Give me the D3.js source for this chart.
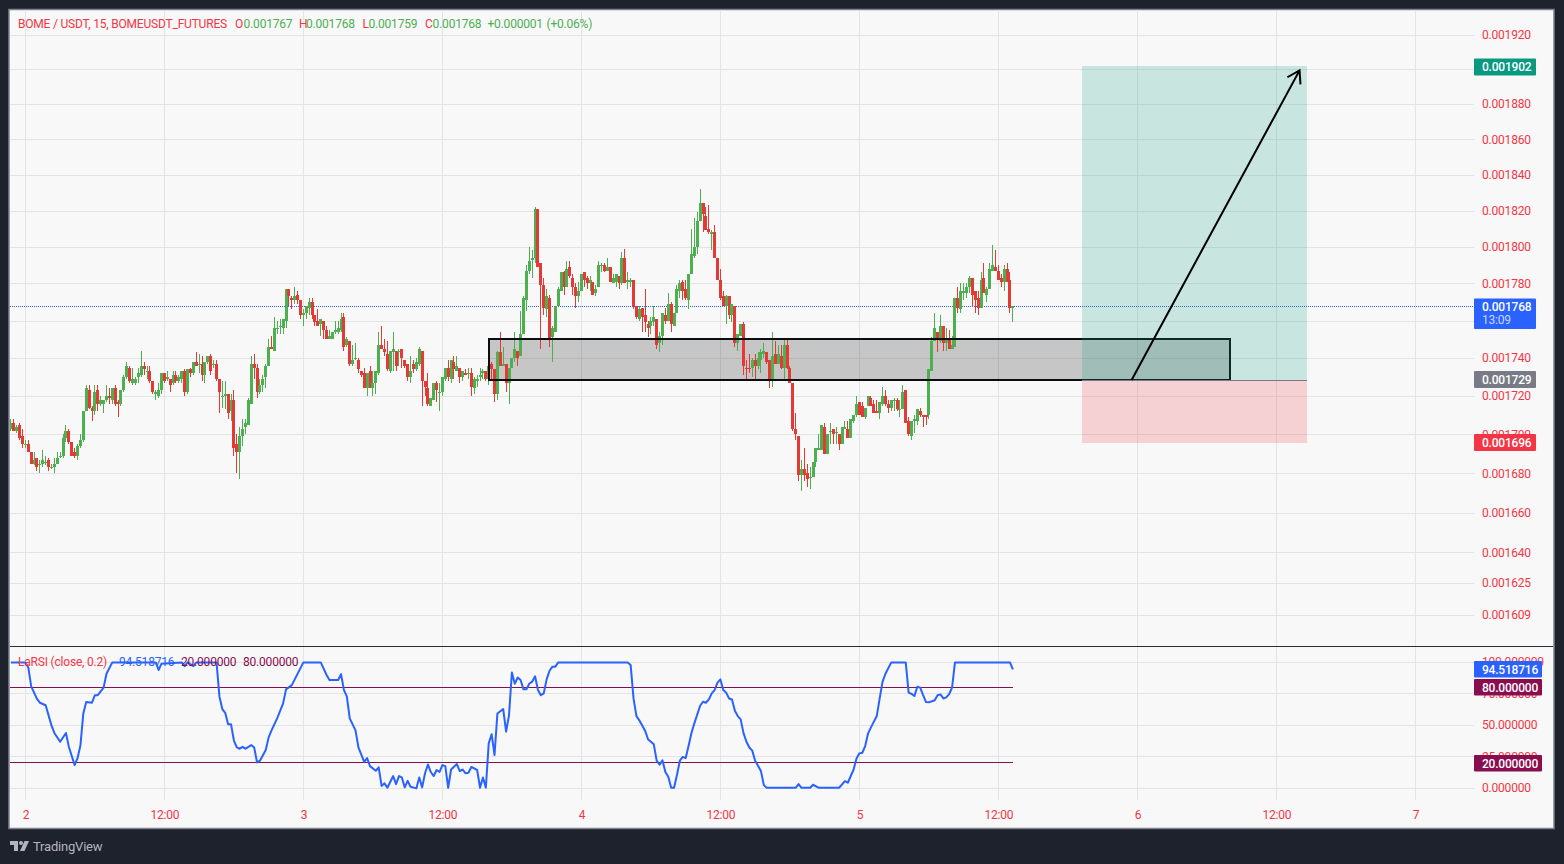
<!DOCTYPE html>
<html><head><meta charset="utf-8">
<script src="https://cdn.jsdelivr.net/npm/d3@7"></script>
<style>
html,body{margin:0;padding:0;background:#1e222d;overflow:hidden}
svg{display:block}
text{font-family:Roboto,sans-serif;letter-spacing:-0.2px}
</style></head><body>
<svg id="c" width="1564" height="864"></svg>
<script>
// OHLC, in millionths of USDT per BOME, one value per 15 minute bar
const firstBar = -5; // bars counted from day 2, 00:00
const opens = [
1703,1706,1702,1705,1699,1695,1695,1691,1685,1688,
1685,1685,1686,1687,1683,1683,1685,1689,1689,1698,
1702,1696,1691,1689,1694,1697,1712,1723,1714,1712,
1723,1716,1716,1718,1720,1718,1724,1717,1716,1723,
1730,1735,1727,1727,1730,1731,1736,1733,1733,1728,
1721,1720,1723,1732,1729,1729,1727,1731,1728,1729,
1733,1722,1734,1732,1738,1737,1737,1731,1738,1741,
1737,1737,1729,1720,1720,1721,1712,1718,1695,1691,
1699,1704,1705,1716,1737,1735,1722,1726,1730,1736,
1746,1744,1756,1757,1756,1760,1777,1772,1771,1774,
1771,1763,1764,1767,1770,1763,1760,1758,1760,1755,
1750,1750,1754,1754,1755,1762,1747,1749,1737,1740,
1739,1733,1732,1724,1733,1724,1727,1732,1747,1745,
1742,1733,1743,1744,1744,1745,1739,1737,1730,1737,
1734,1737,1744,1728,1724,1715,1718,1727,1722,1722,
1729,1735,1729,1738,1733,1735,1730,1732,1732,1732,
1724,1728,1730,1732,1733,1729,1737,1734,1721,1743,
1736,1737,1727,1735,1740,1744,1741,1753,1771,1787,
1793,1794,1821,1791,1779,1766,1772,1751,1754,1768,
1776,1786,1778,1789,1783,1778,1773,1776,1786,1783,
1780,1781,1775,1778,1790,1790,1787,1789,1780,1781,
1784,1780,1794,1781,1781,1782,1768,1761,1767,1763,
1758,1757,1759,1761,1748,1752,1763,1760,1769,1757,
1764,1776,1781,1777,1771,1785,1795,1800,1814,1824,
1817,1810,1807,1808,1794,1782,1773,1768,1773,1763,
1768,1748,1752,1758,1735,1735,1735,1739,1736,1739,
1742,1743,1739,1728,1742,1737,1741,1735,1747,1735,
1727,1703,1699,1679,1682,1680,1678,1678,1686,1692,
1692,1704,1690,1701,1703,1701,1700,1695,1703,1703,
1698,1707,1710,1717,1715,1709,1715,1719,1716,1712,
1711,1716,1720,1716,1714,1718,1718,1713,1713,1723,
1707,1699,1707,1707,1712,1710,1710,1710,1733,1749,
1754,1749,1757,1748,1750,1745,1746,1772,1766,1775,
1775,1778,1783,1776,1772,1767,1783,1774,1777,1787,
1789,1787,1783,1781,1788,1782,1767];
const highs = [
1708,1708,1705,1706,1703,1697,1697,1691,1691,1688,
1687,1692,1689,1688,1685,1688,1691,1691,1700,1705,
1703,1696,1693,1695,1700,1712,1726,1726,1715,1726,
1726,1720,1718,1726,1724,1724,1726,1718,1723,1731,
1738,1736,1735,1730,1735,1744,1738,1736,1736,1728,
1723,1727,1732,1732,1733,1729,1733,1733,1731,1733,
1734,1734,1735,1738,1743,1742,1741,1738,1741,1742,
1739,1739,1729,1728,1728,1721,1721,1723,1700,1704,
1708,1708,1719,1741,1742,1737,1729,1731,1737,1750,
1752,1762,1760,1761,1761,1777,1777,1773,1778,1776,
1771,1766,1768,1772,1772,1763,1766,1761,1760,1757,
1755,1754,1760,1760,1764,1764,1751,1749,1747,1748,
1740,1733,1735,1732,1736,1733,1733,1754,1757,1750,
1749,1744,1754,1744,1745,1745,1739,1737,1741,1739,
1740,1746,1744,1728,1732,1719,1727,1728,1727,1730,
1735,1739,1739,1741,1741,1735,1733,1734,1735,1735,
1730,1731,1735,1734,1733,1738,1738,1734,1744,1754,
1746,1737,1735,1740,1754,1744,1765,1773,1790,1800,
1798,1822,1821,1791,1783,1777,1774,1757,1768,1778,
1786,1787,1792,1792,1785,1780,1781,1785,1786,1784,
1784,1781,1779,1792,1791,1791,1794,1789,1785,1785,
1784,1797,1799,1786,1783,1782,1768,1768,1767,1777,
1760,1762,1768,1761,1754,1764,1767,1775,1770,1764,
1779,1782,1782,1782,1785,1810,1816,1819,1832,1824,
1822,1823,1809,1812,1794,1788,1776,1774,1773,1769,
1768,1753,1758,1759,1739,1742,1740,1742,1743,1745,
1748,1743,1739,1754,1749,1747,1747,1750,1750,1736,
1727,1711,1699,1687,1693,1685,1683,1686,1693,1700,
1705,1706,1700,1706,1703,1704,1700,1704,1707,1707,
1708,1710,1720,1717,1717,1714,1720,1720,1718,1718,
1717,1725,1723,1718,1718,1719,1719,1718,1726,1723,
1709,1707,1710,1713,1714,1710,1710,1734,1751,1764,
1754,1763,1757,1756,1755,1752,1772,1778,1780,1780,
1780,1784,1783,1776,1776,1786,1791,1778,1791,1801,
1798,1790,1785,1790,1791,1786,1768];
const lows = [
1702,1702,1701,1697,1693,1693,1691,1685,1684,1681,
1680,1683,1684,1681,1682,1680,1685,1688,1688,1696,
1695,1689,1688,1687,1693,1696,1712,1713,1707,1710,
1712,1715,1711,1717,1716,1716,1715,1709,1715,1722,
1729,1727,1726,1726,1727,1730,1731,1729,1727,1721,
1718,1719,1721,1727,1728,1722,1726,1727,1727,1727,
1720,1721,1730,1731,1736,1732,1728,1727,1737,1731,
1735,1728,1711,1714,1713,1708,1707,1689,1680,1677,
1694,1700,1705,1716,1729,1719,1721,1722,1724,1736,
1745,1744,1753,1753,1753,1756,1768,1766,1769,1769,
1761,1757,1761,1763,1761,1757,1757,1752,1750,1750,
1750,1750,1753,1753,1754,1744,1746,1736,1736,1739,
1732,1730,1724,1720,1724,1720,1721,1731,1745,1741,
1733,1732,1733,1733,1736,1735,1735,1728,1727,1732,
1733,1736,1715,1720,1715,1715,1718,1717,1712,1720,
1728,1728,1727,1729,1733,1727,1728,1731,1729,1720,
1721,1725,1728,1729,1728,1726,1728,1717,1718,1736,
1736,1722,1716,1735,1738,1736,1741,1753,1765,1785,
1783,1791,1789,1745,1763,1762,1746,1738,1754,1768,
1776,1774,1778,1783,1774,1767,1770,1776,1778,1777,
1776,1774,1773,1778,1786,1786,1787,1781,1780,1778,
1777,1779,1780,1777,1778,1766,1761,1760,1754,1754,
1751,1753,1757,1745,1743,1747,1758,1760,1754,1757,
1764,1772,1771,1771,1766,1785,1794,1796,1814,1808,
1809,1807,1798,1794,1782,1771,1768,1758,1761,1759,
1746,1744,1752,1731,1728,1732,1730,1728,1734,1732,
1740,1737,1724,1725,1737,1737,1734,1729,1734,1727,
1702,1697,1676,1671,1676,1673,1672,1678,1683,1692,
1692,1690,1690,1695,1695,1695,1692,1695,1703,1698,
1698,1706,1709,1710,1709,1708,1715,1715,1711,1711,
1708,1715,1715,1711,1712,1712,1712,1709,1713,1706,
1699,1697,1701,1705,1709,1704,1705,1708,1733,1749,
1743,1748,1744,1744,1745,1745,1746,1764,1764,1771,
1772,1775,1768,1764,1763,1767,1775,1770,1777,1787,
1787,1782,1778,1776,1781,1764,1759];
const closes = [
1706,1702,1704,1698,1695,1695,1691,1685,1687,1683,
1685,1687,1686,1683,1683,1685,1688,1689,1698,1702,
1696,1689,1689,1694,1697,1712,1724,1714,1712,1722,
1716,1718,1718,1720,1719,1724,1716,1716,1723,1730,
1736,1728,1729,1729,1732,1736,1734,1733,1728,1722,
1722,1723,1732,1728,1730,1726,1731,1728,1730,1733,
1722,1734,1732,1738,1736,1737,1731,1738,1741,1733,
1737,1729,1722,1720,1721,1711,1718,1693,1691,1699,
1703,1706,1718,1737,1735,1722,1726,1729,1736,1746,
1745,1756,1756,1757,1761,1777,1773,1771,1773,1771,
1763,1764,1768,1770,1763,1759,1757,1761,1755,1750,
1752,1754,1755,1756,1761,1746,1750,1737,1739,1740,
1734,1731,1724,1732,1724,1727,1733,1747,1745,1743,
1734,1744,1745,1736,1744,1740,1736,1730,1733,1734,
1738,1745,1728,1725,1716,1719,1727,1723,1722,1730,
1735,1730,1739,1734,1736,1730,1733,1731,1732,1725,
1729,1729,1731,1733,1729,1736,1734,1721,1743,1736,
1737,1727,1735,1740,1745,1740,1753,1772,1787,1792,
1794,1821,1789,1779,1767,1773,1750,1756,1768,1777,
1786,1778,1788,1784,1778,1773,1776,1785,1782,1780,
1782,1774,1777,1790,1790,1787,1789,1781,1783,1785,
1780,1794,1780,1782,1782,1768,1762,1766,1762,1759,
1756,1760,1762,1747,1752,1764,1760,1769,1758,1764,
1777,1780,1776,1772,1785,1796,1800,1814,1824,1818,
1809,1808,1808,1794,1782,1772,1768,1773,1763,1769,
1748,1753,1758,1736,1734,1734,1739,1736,1740,1743,
1744,1738,1729,1741,1737,1742,1735,1747,1735,1727,
1703,1700,1679,1682,1679,1677,1678,1686,1693,1693,
1705,1690,1700,1702,1700,1701,1695,1704,1704,1698,
1708,1710,1716,1710,1709,1714,1720,1715,1711,1711,
1717,1720,1716,1714,1718,1718,1713,1713,1722,1706,
1700,1707,1708,1713,1710,1709,1709,1734,1749,1756,
1750,1757,1748,1750,1745,1747,1772,1767,1776,1776,
1778,1783,1774,1771,1767,1782,1775,1777,1788,1790,
1787,1782,1781,1788,1781,1767,1768];

// LaRSI polyline vertices: bar number and value
const rsiBars = [-5,0,1,2,4,5,7,9,10,12,14,15,17,18,19,20,21,23,24,25,27,28,30,45,46,47,54,55,56,58,59,66,67,68,69,70,71,72,73,74,75,76,78,79,80,81,83,84,85,87,89,90,92,96,102,104,105,108,109,110,111,112,114,115,117,118,119,121,122,123,124,125,127,128,129,130,131,132,133,135,136,137,138,139,140,141,142,143,144,145,146,147,149,150,151,152,153,154,156,157,158,159,160,161,162,163,165,166,167,168,169,170,171,172,173,174,175,176,177,178,179,180,181,182,183,184,208,209,210,211,212,214,215,217,218,219,220,221,222,223,224,225,226,227,228,229,230,231,233,234,235,236,237,238,239,240,241,242,243,244,245,246,247,248,249,250,251,252,254,255,256,266,267,268,271,272,274,281,283,284,286,287,288,289,290,291,292,293,294,295,296,297,299,304,305,306,307,308,309,310,311,312,314,315,316,317,318,319,320,321,340,341];
const rsiValues = [100,100,96,81,71,68,66,50,44,37,44,33,18.5,24,34,59.5,68.5,68,74,74,80,91,100,100,94,99,100,97,100,97,100,100,73,63,60,51,51,38,32.5,31.5,33,31.5,34.4,32.5,20.6,22,30.4,40.5,46,56,67.5,78.6,82,100,100,90,86,86,90.7,78,73,55.6,46,32.5,21,24,17.7,14,16.7,2,4,0.5,9.8,3.4,9.8,8.7,0.8,6,1.3,0,8.7,0.8,12,19,13,9.8,14.6,13,18.5,17.7,0.5,15,19.3,13.8,15,12,12.4,17,14.6,0.5,8.7,0.5,35.7,43,26.5,59.5,63,45,58,92,83,88,86,78.6,78.6,83,84.7,89,78,74,75.4,86.5,93.4,96.6,96.6,100,100,98,71.4,57.4,54,45.8,39,35,22,18.8,22.2,13,9.3,0.5,0.5,10.6,22,25,24,33.6,44,51.6,65.6,68.8,68,70.6,75.4,78,84,86.5,78,76,71.4,70.6,61.6,57.4,54.8,43.7,37,32.5,30,22,13.8,2.6,0.5,0.5,3.4,0.5,0.5,2.9,0.5,0.5,5.8,4.5,15,23.8,27.8,28.3,33.6,43.7,48.4,53,57.4,71.4,84.7,91,100,100,76,75,73.3,80.7,80,74,68.5,68.3,70,74,74.6,71.4,72.2,74.9,80,100,100,94.5];

const priceTicks = [1920,1900,1880,1860,1840,1820,1800,1780,1760,1740,1720,1700,1680,1660,1640,1625,1609];
const rsiTicks = [100,75,50,25,0];
const rsiBands = [80,20];
const timeTicks = [0,48,96,144,192,240,288,336,384,432,480];
const timeLabels = ['2','12:00','3','12:00','4','12:00','5','12:00','6','12:00','7'];
const lastPrice = 1768, stopPrice = 1696, entryPrice = 1729, targetPrice = 1902;
const zoneBars = [160,416], zonePrices = [1750,1729];
const positionBars = [365,442.5];
const arrowBars = [382,440], arrowPrices = [1729,1900];

const C = {bg:'#f8f8f8', frame:'#7f828c', grid:'#e4e4e4', up:'#4caf50', down:'#e53935', axis:'#f23645',
  blue:'#2962ff', band:'#880e4f', teal:'#089981', grey:'#787b86', sep:'#2a2e39'};
const L = {left:10, right:1553, top:10, bottom:828, plotRight:1474, mainBottom:646};

const x = d3.scaleLinear().domain([0,96]).range([25.4,303.4]);
const y = d3.scaleLog().domain([1920,1609]).range([35,615]);
const r = d3.scaleLinear().domain([0,100]).range([788,662]);
const fmt = p => (p/1e6).toFixed(6);
const row = v => Math.floor(v)+.5;

const svg = d3.select('#c');
svg.append('rect').attr('x',L.left-1).attr('y',L.top-0.5).attr('width',L.right-L.left+2).attr('height',L.bottom-L.top+1)
  .attr('fill',C.bg).attr('stroke',C.frame).attr('stroke-width',1.5);
const defs = svg.append('defs');
defs.append('clipPath').attr('id','plot').append('rect').attr('x',L.left).attr('y',L.top).attr('width',L.plotRight-L.left).attr('height',L.mainBottom-L.top);

// grid
const grid = svg.append('g').attr('stroke',C.grid).attr('stroke-width',1).attr('shape-rendering','crispEdges');
grid.selectAll('.v').data(timeTicks).join('line').attr('x1',d=>Math.round(x(d))+.5).attr('x2',d=>Math.round(x(d))+.5).attr('y1',L.top).attr('y2',800);
grid.selectAll('.h').data(priceTicks).join('line').attr('x1',L.left).attr('x2',L.plotRight).attr('y1',d=>Math.round(y(d))+.5).attr('y2',d=>Math.round(y(d))+.5);
grid.selectAll('.r').data(rsiTicks).join('line').attr('x1',L.left).attr('x2',L.plotRight).attr('y1',d=>row(r(d))).attr('y2',d=>row(r(d)));

// pane separator
svg.append('line').attr('x1',L.left).attr('x2',L.right).attr('y1',646.5).attr('y2',646.5).attr('stroke',C.sep).attr('stroke-width',1);

// last price line
svg.append('line').attr('x1',L.left).attr('x2',L.plotRight).attr('y1',Math.round(y(lastPrice))+.5).attr('y2',Math.round(y(lastPrice))+.5)
  .attr('stroke',C.blue).attr('stroke-width',1).attr('stroke-dasharray','1 1').attr('shape-rendering','crispEdges');

const main = svg.append('g').attr('clip-path','url(#plot)');
// zone fill under candles
const zx0=Math.round(x(zoneBars[0])), zx1=Math.round(x(zoneBars[1])), zy0=Math.round(y(zonePrices[0])), zy1=Math.round(y(zonePrices[1]))+1;
main.append('rect').attr('x',zx0).attr('y',zy0).attr('width',zx1-zx0).attr('height',zy1-zy0).attr('fill','#000').attr('fill-opacity',0.2);

// candles
const bars = d3.range(opens.length).map(i=>({t:firstBar+i,o:opens[i],h:highs[i],l:lows[i],c:closes[i]}));
const cg = main.append('g').attr('shape-rendering','crispEdges');
cg.selectAll('g').data(bars).join('g').each(function(d){
  const g=d3.select(this), col=d.c>=d.o?C.up:C.down, cx=x(d.t);
  const left=Math.round(cx-1.5);
  g.append('rect').attr('x',left+1).attr('width',1).attr('y',y(d.h)).attr('height',Math.max(1,y(d.l)-y(d.h))).attr('fill',col);
  const top=Math.round(y(Math.max(d.o,d.c))), bot=Math.round(y(Math.min(d.o,d.c)));
  g.append('rect').attr('x',left).attr('width',3).attr('y',top).attr('height',Math.max(1,bot-top)).attr('fill',col);
});
// zone border
main.append('rect').attr('x',zx0).attr('y',zy0).attr('width',zx1-zx0).attr('height',zy1-zy0).attr('fill','none').attr('stroke','#0b0e11').attr('stroke-width',2).attr('shape-rendering','crispEdges');

// long position
const px0=Math.round(x(positionBars[0])), px1=Math.round(x(positionBars[1]));
const yE=Math.round(y(entryPrice))+1, yT=Math.round(y(targetPrice)), yS=Math.round(y(stopPrice))+1;
main.append('rect').attr('x',px0).attr('width',px1-px0).attr('y',yT).attr('height',yE-yT).attr('fill',C.teal).attr('fill-opacity',0.2);
main.append('rect').attr('x',px0).attr('width',px1-px0).attr('y',yE).attr('height',yS-yE).attr('fill',C.axis).attr('fill-opacity',0.2);
main.append('line').attr('x1',px0).attr('x2',px1).attr('y1',yE+.5).attr('y2',yE+.5).attr('stroke',C.grey).attr('stroke-width',1);

// arrow
const ax0=x(arrowBars[0]), ay0=y(arrowPrices[0])+1, ax1=x(arrowBars[1]), ay1=y(arrowPrices[1])+1;
const ang=Math.atan2(ay1-ay0,ax1-ax0), hl=14, ha=0.56;
main.append('path').attr('d',d3.line()([[ax0,ay0],[ax1,ay1]])+d3.line()([[ax1-hl*Math.cos(ang-ha),ay1-hl*Math.sin(ang-ha)],[ax1,ay1],[ax1-hl*Math.cos(ang+ha),ay1-hl*Math.sin(ang+ha)]]))
  .attr('fill','none').attr('stroke','#000').attr('stroke-width',2);

// RSI bands and line
svg.append('g').attr('shape-rendering','crispEdges').selectAll('line').data(rsiBands).join('line').attr('x1',L.left).attr('x2',x(bars[bars.length-1].t))
  .attr('y1',d=>row(r(d))).attr('y2',d=>row(r(d))).attr('stroke',C.band).attr('stroke-width',1);
const rsiPts = rsiBars.map((b,i)=>[x(b),r(rsiValues[i])+.4]);
svg.append('path').attr('d',d3.line()(rsiPts)).attr('fill','none').attr('stroke',C.blue).attr('stroke-width',2).attr('stroke-linejoin','round');

const F = 12;
// axes
const priceAxis = d3.axisRight(y).tickValues(priceTicks).tickFormat(fmt).tickSize(0).tickPadding(0);
const gp = svg.append('g').attr('transform','translate(1482,0)').call(priceAxis);
const rsiAxis = d3.axisRight(r).tickValues(rsiTicks).tickFormat(d=>d.toFixed(6)).tickSize(0).tickPadding(0);
const gr = svg.append('g').attr('transform','translate(1482,0)').call(rsiAxis);
const timeAxis = d3.axisBottom(x).tickValues(timeTicks).tickFormat((d,i)=>timeLabels[i]).tickSize(0).tickPadding(0);
const gt = svg.append('g').attr('transform','translate(0,810)').call(timeAxis);
[gp,gr,gt].forEach(g=>{g.select('.domain').remove(); g.selectAll('text').attr('fill',C.axis).style('font-size',F+'px').style('font-family','Roboto,sans-serif');});

// tags
function tag(yc,h,w,bg,txt,sub){
  svg.append('rect').attr('x',1474).attr('y',yc).attr('width',w).attr('height',h).attr('fill',bg).attr('rx',1);
  svg.append('text').attr('x',1482).attr('y',yc+12.6).attr('fill','#fff').style('font-size',F+'px').style('font-weight',500).text(txt);
  if(sub) svg.append('text').attr('x',1482).attr('y',yc+25.5).attr('fill','#c9d6ff').style('font-size',F+'px').text(sub);
}
tag(58.5,17,62,C.teal,fmt(targetPrice));
tag(298.5,30.5,62,C.blue,fmt(lastPrice),'13:09');
tag(371,17,62,C.grey,fmt(entryPrice));
tag(434,17,62,C.axis,fmt(stopPrice));
tag(661,16.6,68,C.blue,'94.518716');
tag(679,16.6,68,C.band,rsiBands[0].toFixed(6));
tag(755,16.6,68,C.band,rsiBands[1].toFixed(6));

// legends
function txt(xp,yp,col,s){svg.append('text').attr('x',xp).attr('y',yp).attr('fill',col).style('font-size',F+'px').text(s);}
const up=C.up, dn=C.axis;
txt(18,28.4,dn,'BOME / USDT, 15, BOMEUSDT_FUTURES');
txt(235,28.4,dn,'O'); txt(243.6,28.4,up,fmt(opens[opens.length-1]));
txt(299,28.4,dn,'H'); txt(306,28.4,up,fmt(highs[highs.length-1]));
txt(362.5,28.4,dn,'L'); txt(368.5,28.4,up,fmt(lows[lows.length-1]));
txt(425,28.4,dn,'C'); txt(432.6,28.4,up,fmt(closes[closes.length-1]));
txt(487.5,28.4,up,'+0.000001'); txt(546.5,28.4,up,'(+0.06%)');
txt(18,666,dn,'LaRSI (close, 0.2)');
txt(119,666,C.blue,'94.518716');
txt(181,666,C.band,'20.000000');
txt(243,666,C.band,'80.000000');

// footer
const logo = svg.append('g').attr('transform','translate(10,841)').attr('fill','#b2b5be');
logo.append('path').attr('d','M0 0H8V10H4V4H0Z');
logo.append('circle').attr('cx',11).attr('cy',2).attr('r',2);
logo.append('path').attr('d','M14.5 0H19L14.5 10H10Z');
svg.append('text').attr('x',33).attr('y',851).attr('fill','#b2b5be').style('font-size','13px').text('TradingView');
</script></body></html>
